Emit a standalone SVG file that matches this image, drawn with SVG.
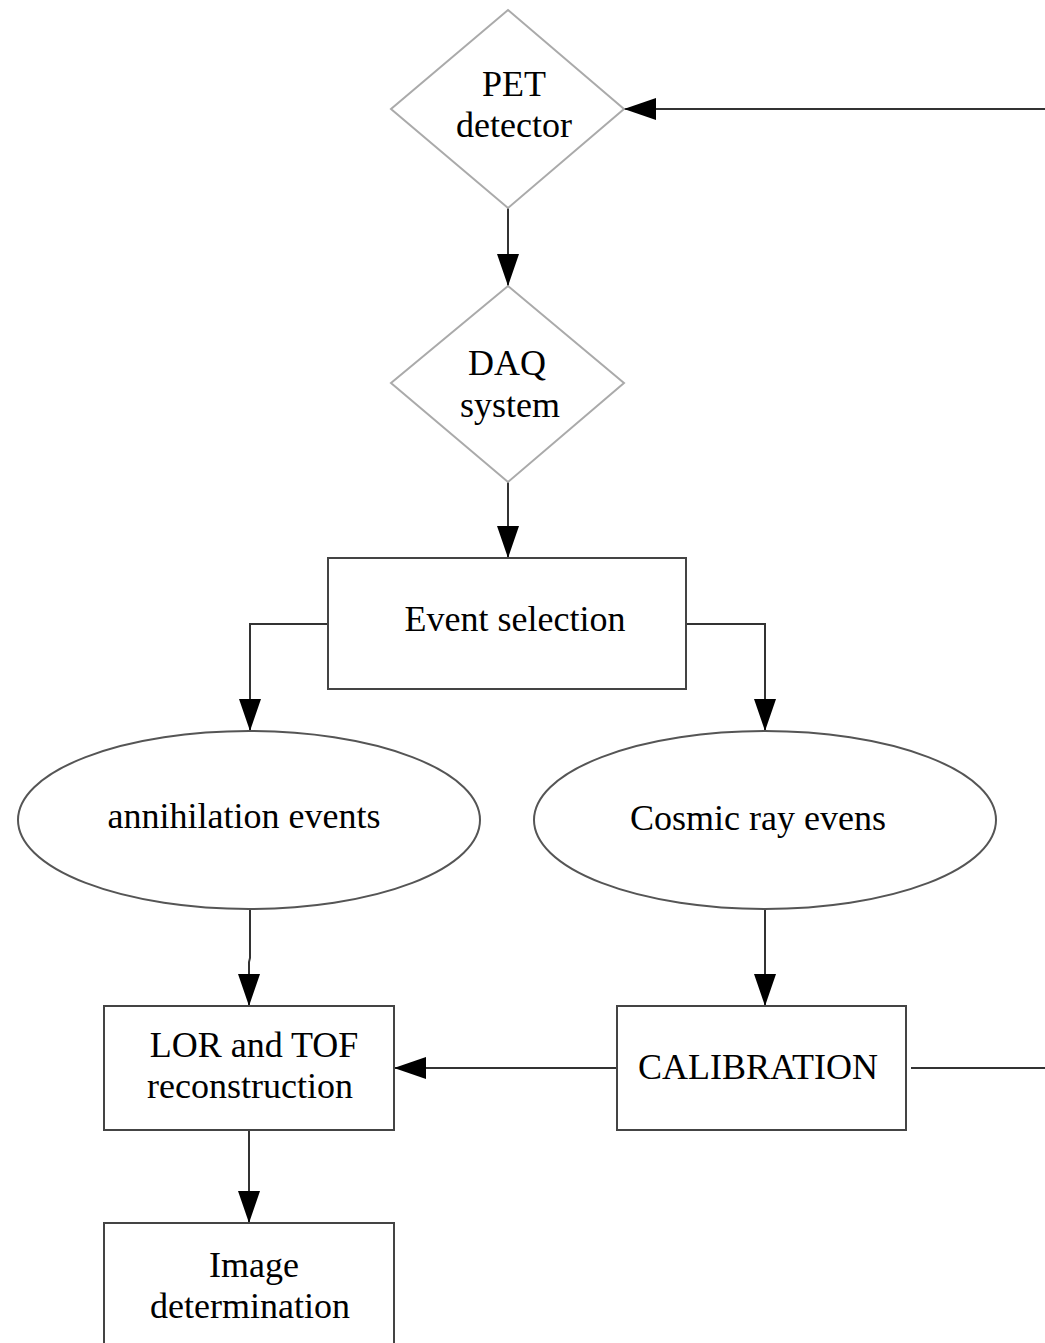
<svg xmlns="http://www.w3.org/2000/svg" width="1045" height="1343" viewBox="0 0 1045 1343">
<style>
.dia{fill:#fff;stroke:#aaaaaa;stroke-width:2}
.box{fill:#fff;stroke:#444;stroke-width:2}
.ell{fill:#fff;stroke:#555;stroke-width:2}
.t{font-family:"Liberation Serif","Times New Roman",serif;font-size:36px;fill:#000;text-anchor:middle}
.c{fill:none;stroke:#333;stroke-width:2}
</style>
<defs>
<marker id="ah" markerWidth="32" markerHeight="22" refX="32" refY="11" orient="auto" markerUnits="userSpaceOnUse">
<path d="M0,0 L32,11 L0,22 Z" fill="#000"/>
</marker>
</defs>
<rect width="1045" height="1343" fill="#fff"/>
<g id="connectors">
<path class="c" d="M508,208 V286" marker-end="url(#ah)"/>
<path class="c" d="M508,482 V558" marker-end="url(#ah)"/>
<path class="c" d="M328,624 H250 V731" marker-end="url(#ah)"/>
<path class="c" d="M686,624 H765 V731" marker-end="url(#ah)"/>
<path class="c" d="M250,909 V958 L249,962 V1006" marker-end="url(#ah)"/>
<path class="c" d="M765,909 V1006" marker-end="url(#ah)"/>
<path class="c" d="M617,1068 H394" marker-end="url(#ah)"/>
<path class="c" d="M911,1068 H1045"/>
<path class="c" d="M1045,109 H624" marker-end="url(#ah)"/>
<path class="c" d="M249,1130 V1223" marker-end="url(#ah)"/>
</g>
<g id="pet">
<polygon class="dia" points="508,10 624,109 508,208 391,109"/>
<text class="t" x="514" y="96">PET</text>
<text class="t" x="514" y="137">detector</text>
</g>
<g id="daq">
<polygon class="dia" points="508,286 624,383 508,482 391,383"/>
<text class="t" x="507" y="375">DAQ</text>
<text class="t" x="510" y="417">system</text>
</g>
<g id="event">
<rect class="box" x="328" y="558" width="358" height="131"/>
<text class="t" x="515" y="631">Event selection</text>
</g>
<g id="annihilation">
<ellipse class="ell" cx="249" cy="820" rx="231" ry="89"/>
<text class="t" x="244" y="828">annihilation events</text>
</g>
<g id="cosmic">
<ellipse class="ell" cx="765" cy="820" rx="231" ry="89"/>
<text class="t" x="758" y="830">Cosmic ray evens</text>
</g>
<g id="lor">
<rect class="box" x="104" y="1006" width="290" height="124"/>
<text class="t" x="254" y="1057">LOR and TOF</text>
<text class="t" x="250" y="1098">reconstruction</text>
</g>
<g id="calibration">
<rect class="box" x="617" y="1006" width="289" height="124"/>
<text class="t" x="758" y="1079">CALIBRATION</text>
</g>
<g id="image">
<rect class="box" x="104" y="1223" width="290" height="140"/>
<text class="t" x="254" y="1277">Image</text>
<text class="t" x="250" y="1318">determination</text>
</g>
</svg>
